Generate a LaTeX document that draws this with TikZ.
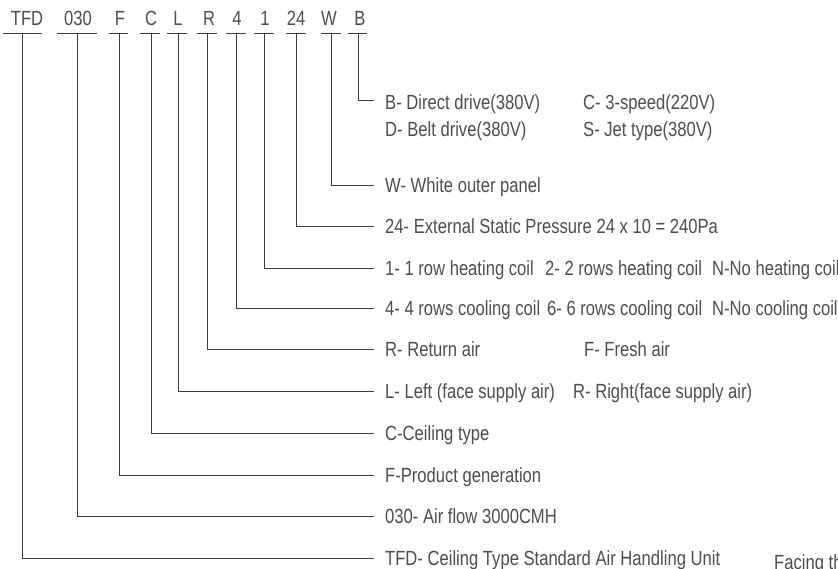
\documentclass[tikz,border=0pt]{standalone}
\usepackage{fontspec}
\setmainfont{Liberation Sans}[FakeStretch=0.81]
\definecolor{txt}{HTML}{4D4D4D}
\definecolor{lnc}{HTML}{3A3A3A}
\begin{document}
\begin{tikzpicture}[x=1pt,y=-1pt,
  code/.style={anchor=base, inner sep=0pt, text=txt, font=\fontsize{20.5}{23}\selectfont},
  lbl/.style={anchor=base west, inner sep=0pt, text=txt, font=\fontsize{20.5}{23}\selectfont},
  ln/.style={draw=lnc, line width=1pt},
]
\useasboundingbox (0,0) rectangle (838,568);
\clip (0,0) rectangle (838,568);
% code letters
\node[code] (cTFD) at (27,25.5) {TFD};
\node[code] (c030) at (78,25.5) {030};
\node[code] (cF) at (120,25.5) {F};
\node[code] (cC) at (151,25.5) {C};
\node[code] (cL) at (178,25.5) {L};
\node[code] (cR) at (209,25.5) {R};
\node[code] (c4) at (237,25.5) {4};
\node[code] (c1) at (265,25.5) {1};
\node[code] (c24) at (296,25.5) {24};
\node[code] (cW) at (329,25.5) {W};
\node[code] (cB) at (360,25.5) {B};
% underlines
\draw[ln] (3,33.3) -- (42,33.3);
\draw[ln] (57,33.3) -- (97,33.3);
\draw[ln] (109,33.3) -- (128,33.3);
\draw[ln] (140,33.3) -- (160,33.3);
\draw[ln] (167,33.3) -- (187,33.3);
\draw[ln] (197,33.3) -- (217,33.3);
\draw[ln] (226,33.3) -- (246,33.3);
\draw[ln] (254,33.3) -- (274,33.3);
\draw[ln] (286,33.3) -- (306,33.3);
\draw[ln] (321,33.3) -- (341,33.3);
\draw[ln] (348,33.3) -- (367,33.3);
% connector start points
\coordinate (uTFD) at (22,33.3);
\coordinate (u030) at (77,33.3);
\coordinate (uF) at (119,33.3);
\coordinate (uC) at (151,33.3);
\coordinate (uL) at (178,33.3);
\coordinate (uR) at (207,33.3);
\coordinate (u4) at (236,33.3);
\coordinate (u1) at (264,33.3);
\coordinate (u24) at (296,33.3);
\coordinate (uW) at (331,33.3);
\coordinate (uB) at (358,33.3);
% connector end points
\coordinate (eB) at (374,100);
\coordinate (eW) at (374,185);
\coordinate (e24) at (374,226.5);
\coordinate (e1) at (374,268);
\coordinate (e4) at (374,308);
\coordinate (eR) at (374,349.5);
\coordinate (eL) at (374,391);
\coordinate (eC) at (374,433.5);
\coordinate (eF) at (374,475);
\coordinate (e030) at (374,516.5);
\coordinate (eTFD) at (374,558);
% connectors
\draw[ln] (uB) |- (eB);
\draw[ln] (uW) |- (eW);
\draw[ln] (u24) |- (e24);
\draw[ln] (u1) |- (e1);
\draw[ln] (u4) |- (e4);
\draw[ln] (uR) |- (eR);
\draw[ln] (uL) |- (eL);
\draw[ln] (uC) |- (eC);
\draw[ln] (uF) |- (eF);
\draw[ln] (u030) |- (e030);
\draw[ln] (uTFD) |- (eTFD);
% labels
\node[lbl] (lB1) at (385,109) {B- Direct drive(380V)};
\node[lbl] (lB2) at (583,109) {C- 3-speed(220V)};
\node[lbl] (lB3) at (385,136.6) {D- Belt drive(380V)};
\node[lbl] (lB4) at (583,136.6) {S- Jet type(380V)};
\node[lbl] (lW) at (385,192.3) {W- White outer panel};
\node[lbl] (l24) at (385,233.8) {24- External Static Pressure 24 x 10 = 240Pa};
\node[lbl] (l1a) at (385,275.3) {1- 1 row heating coil};
\node[lbl] (l1b) at (545,275.3) {2- 2 rows heating coil};
\node[lbl] (l1c) at (712,275.3) {N-No heating coil};
\node[lbl] (l4a) at (385,315.3) {4- 4 rows cooling coil};
\node[lbl] (l4b) at (547,315.3) {6- 6 rows cooling coil};
\node[lbl] (l4c) at (712,315.3) {N-No cooling coil};
\node[lbl] (lRa) at (385,356.8) {R- Return air};
\node[lbl] (lRb) at (584,356.8) {F- Fresh air};
\node[lbl] (lLa) at (385,398.3) {L- Left (face supply air)};
\node[lbl] (lLb) at (573,398.3) {R- Right(face supply air)};
\node[lbl] (lC) at (385,440.8) {C-Ceiling type};
\node[lbl] (lF) at (385,482.3) {F-Product generation};
\node[lbl] (l030) at (385,523.8) {030- Air flow 3000CMH};
\node[lbl] (lTFD) at (385,565.3) {TFD- Ceiling Type Standard Air Handling Unit};
\node[lbl] (lFace) at (774,569.8) {Facing th};
\end{tikzpicture}
\end{document}
